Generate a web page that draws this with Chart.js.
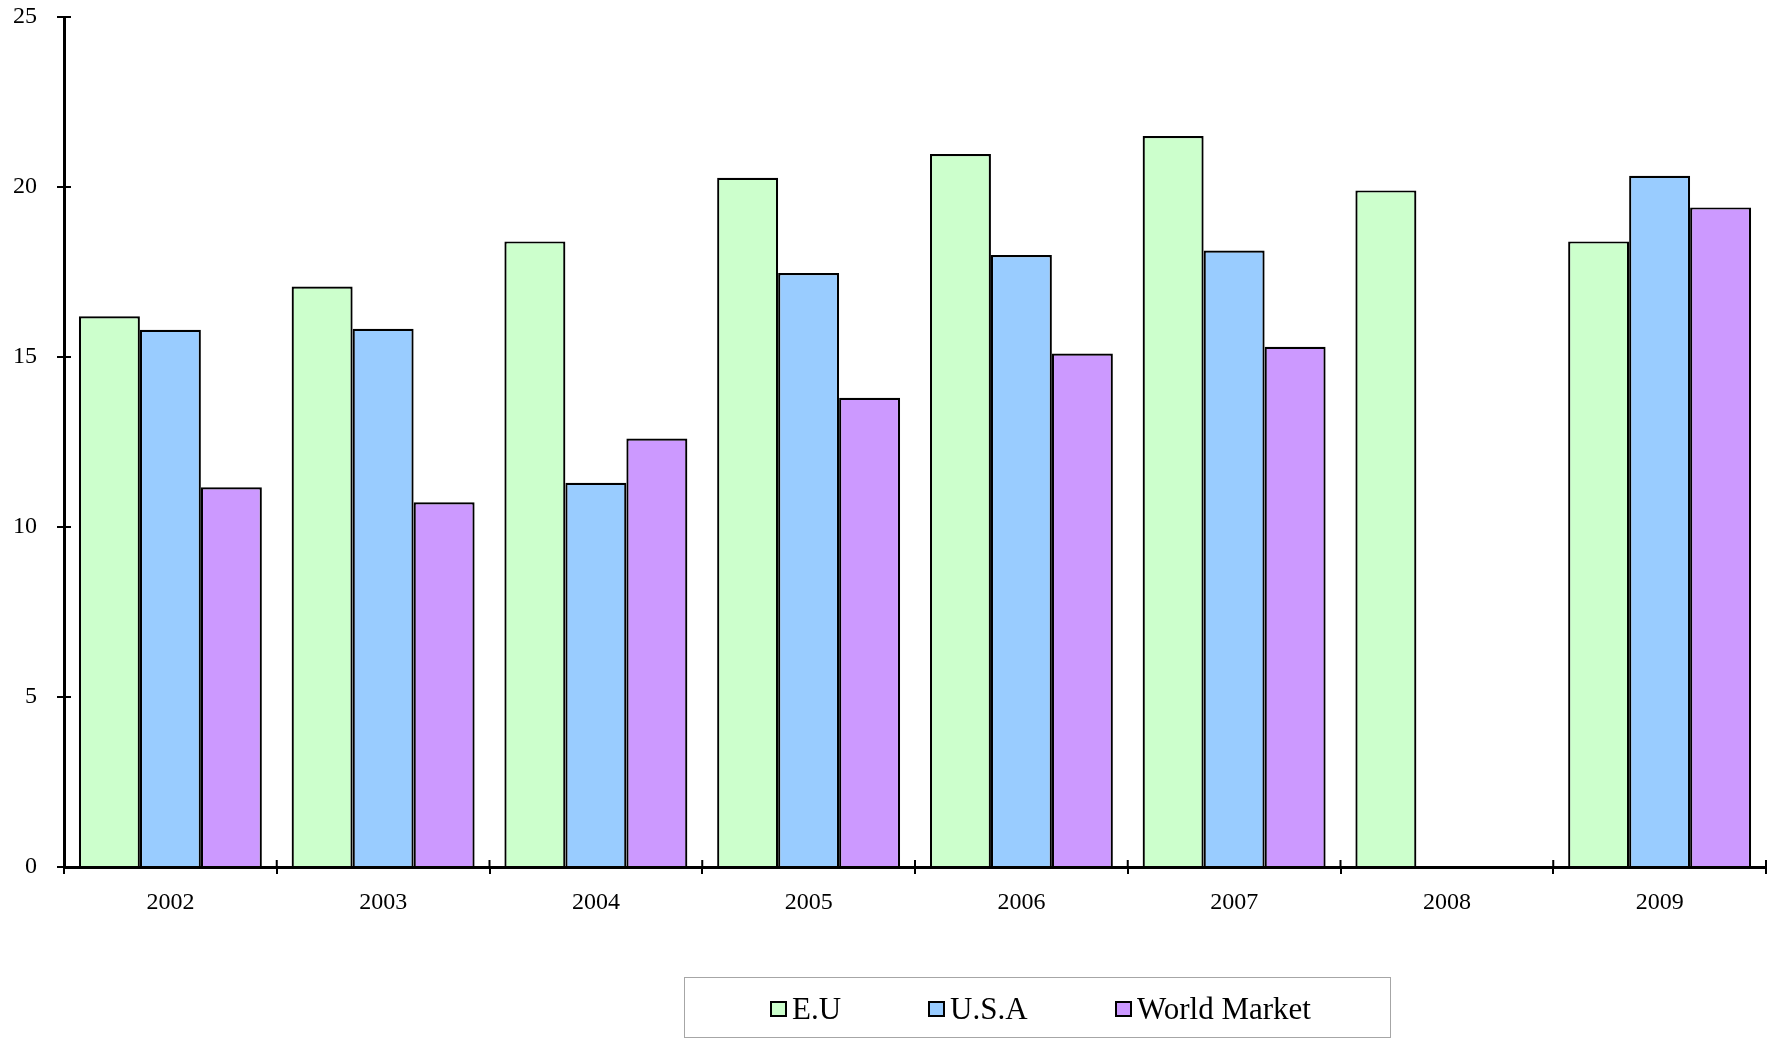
<!DOCTYPE html>
<html>
<head>
<meta charset="utf-8">
<script src="https://cdn.jsdelivr.net/npm/chart.js@4.4.1/dist/chart.umd.min.js"></script>
<style>
html,body{margin:0;padding:0;background:#fff;}
#wrap{width:1776px;height:1044px;position:relative;}
#legend{position:absolute;left:684px;top:977px;width:707px;height:61px;border:1.5px solid #a6a6a6;box-sizing:border-box;
  font-family:'Liberation Serif','Times New Roman',serif;font-size:31px;color:#000;}
#legend .item{position:absolute;top:1px;height:100%;display:flex;align-items:center;white-space:nowrap;}
#legend .sw{display:inline-block;width:17px;height:16px;border:2px solid #000;box-sizing:border-box;margin-right:5px;}
</style>
</head>
<body>
<div id="wrap"><canvas id="c" width="1776" height="1044"></canvas><div id="legend"></div></div>
<script>
const categories = ['2002','2003','2004','2005','2006','2007','2008','2009'];
const euValues = [16.2, 17.07, 18.4, 20.27, 20.97, 21.5, 19.9, 18.4];
const usaValues = [15.8, 15.83, 11.3, 17.47, 18.0, 18.13, null, 20.33];
const worldValues = [11.17, 10.73, 12.6, 13.8, 15.1, 15.3, null, 19.4];
const seriesNames = ['E.U', 'U.S.A', 'World Market'];
const seriesColors = ['#CCFFCC', '#99CCFF', '#CC99FF'];
const yTicks = [0, 5, 10, 15, 20, 25];

const FONT = "'Liberation Serif', 'Times New Roman', serif";

// HTML legend (real text)
const legendOffsets = [85, 243, 430];
const legendEl = document.getElementById('legend');
seriesNames.forEach((name, i) => {
  const it = document.createElement('div');
  it.className = 'item';
  it.style.left = legendOffsets[i] + 'px';
  const sw = document.createElement('span');
  sw.className = 'sw';
  sw.style.background = seriesColors[i];
  const tx = document.createElement('span');
  tx.textContent = name;
  it.appendChild(sw); it.appendChild(tx);
  legendEl.appendChild(it);
});

const crossTicks = {
  id: 'crossTicks',
  afterDraw(chart) {
    const ctx = chart.ctx;
    const x = chart.scales.x, y = chart.scales.y;
    const area = chart.chartArea;
    ctx.save();
    ctx.strokeStyle = '#000';
    ctx.lineWidth = 2;
    ctx.beginPath();
    yTicks.forEach(v => {
      const py = y.getPixelForValue(v);
      ctx.moveTo(area.left, py);
      ctx.lineTo(area.left + 7, py);
    });
    for (let i = 0; i <= categories.length; i++) {
      const px = x.getPixelForValue(i - 0.5);
      ctx.moveTo(px, area.bottom);
      ctx.lineTo(px, area.bottom - 7);
    }
    ctx.stroke();
    ctx.restore();
  }
};

new Chart(document.getElementById('c'), {
  type: 'bar',
  data: {
    labels: categories,
    datasets: [
      { label: seriesNames[0], data: euValues, backgroundColor: seriesColors[0], borderColor: '#000', borderWidth: 2.2 },
      { label: seriesNames[1], data: usaValues, backgroundColor: seriesColors[1], borderColor: '#000', borderWidth: 2.2 },
      { label: seriesNames[2], data: worldValues, backgroundColor: seriesColors[2], borderColor: '#000', borderWidth: 2.2 }
    ]
  },
  options: {
    responsive: false,
    animation: false,
    devicePixelRatio: 1,
    layout: { padding: { top: 17, right: 10, left: 0, bottom: 67 } },
    datasets: { bar: { categoryPercentage: 0.86, barPercentage: 1.0 } },
    plugins: {
      tooltip: { enabled: false },
      legend: { display: false }
    },
    scales: {
      x: {
        grid: { display: true, drawOnChartArea: false, tickLength: 7, color: '#000', lineWidth: 2, offset: true },
        border: { display: true, color: '#000', width: 3 },
        ticks: { font: { family: FONT, size: 24 }, color: '#000', padding: 14, maxRotation: 0 },
        afterFit(scale) { scale.height = 110; scale.paddingLeft = 0; scale.paddingRight = 0; }
      },
      y: {
        min: 0, max: 25,
        afterBuildTicks(scale) { scale.ticks = yTicks.map(v => ({ value: v })); },
        grid: { display: true, drawOnChartArea: false, tickLength: 7, color: '#000', lineWidth: 2 },
        border: { display: true, color: '#000', width: 3 },
        ticks: { font: { family: FONT, size: 24 }, color: '#000', padding: 20 },
        afterFit(scale) { scale.width = 64; scale.paddingTop = 0; scale.paddingBottom = 0; }
      }
    }
  },
  plugins: [crossTicks]
});
</script>
</body>
</html>
